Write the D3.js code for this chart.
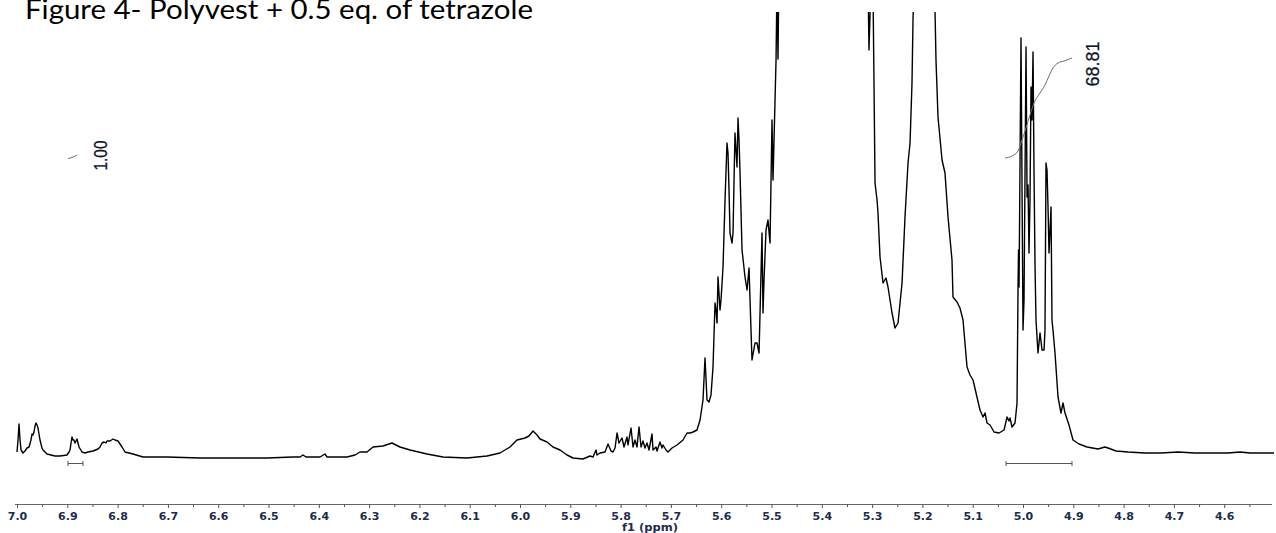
<!DOCTYPE html>
<html>
<head>
<meta charset="utf-8">
<script src="https://cdn.jsdelivr.net/npm/d3@7/dist/d3.min.js"></script>
<style>
  html, body { margin: 0; padding: 0; background: #ffffff; overflow: hidden; }
  svg { display: block; }
</style>
</head>
<body>
<svg id="chart" width="1276" height="533"></svg>
<script>
// 1H NMR spectrum, chemical shift (ppm) and intensity (arbitrary units)
const spectrumPpm = [
  7.0000, 6.9980, 6.9960, 6.9940, 6.9920, 6.9881, 6.9841, 6.9801, 6.9761, 6.9722,
  6.9702, 6.9682, 6.9662, 6.9642, 6.9622, 6.9602, 6.9583, 6.9543, 6.9503, 6.9483,
  6.9404, 6.9245, 6.9145, 6.9006, 6.8966, 6.8946, 6.8926, 6.8907, 6.8887, 6.8867,
  6.8847, 6.8827, 6.8807, 6.8787, 6.8767, 6.8708, 6.8648, 6.8588, 6.8489, 6.8390,
  6.8350, 6.8310, 6.8270, 6.8231, 6.8211, 6.8151, 6.8091, 6.8052, 6.7992, 6.7952,
  6.7912, 6.7853, 6.7694, 6.7495, 6.7018, 6.6362, 6.5706, 6.5030, 6.4513, 6.4374,
  6.4314, 6.4254, 6.3976, 6.3877, 6.3837, 6.3439, 6.3280, 6.3181, 6.3042, 6.2922,
  6.2724, 6.2545, 6.2386, 6.2187, 6.1849, 6.1531, 6.1054, 6.0656, 6.0398, 6.0199,
  6.0060, 5.9901, 5.9821, 5.9741, 5.9662, 5.9602, 5.9463, 5.9344, 5.9205, 5.9066,
  5.8946, 5.8748, 5.8608, 5.8549, 5.8489, 5.8469, 5.8409, 5.8310, 5.8250, 5.8191,
  5.8151, 5.8111, 5.8071, 5.8032, 5.7972, 5.7932, 5.7873, 5.7853, 5.7793, 5.7753,
  5.7714, 5.7674, 5.7634, 5.7594, 5.7555, 5.7515, 5.7475, 5.7435, 5.7376, 5.7356,
  5.7296, 5.7276, 5.7217, 5.7177, 5.7157, 5.7097, 5.7058, 5.6978, 5.6879, 5.6759,
  5.6680, 5.6620, 5.6561, 5.6481, 5.6421, 5.6362, 5.6322, 5.6282, 5.6243, 5.6203,
  5.6163, 5.6123, 5.6103, 5.6083, 5.6064, 5.6024, 5.6004, 5.5964, 5.5924, 5.5885,
  5.5865, 5.5845, 5.5825, 5.5785, 5.5765, 5.5745, 5.5726, 5.5706, 5.5686, 5.5666,
  5.5646, 5.5626, 5.5586, 5.5527, 5.5487, 5.5447, 5.5427, 5.5388, 5.5328, 5.5288,
  5.5248, 5.5189, 5.5169, 5.5149, 5.5109, 5.5070, 5.5030, 5.4990, 5.4970, 5.4930,
  5.4910, 5.4890, 5.4871, 5.4851, 5.4632, 5.4036, 5.3439, 5.3121, 5.3082, 5.3062,
  5.3022, 5.2982, 5.2942, 5.2902, 5.2883, 5.2843, 5.2783, 5.2724, 5.2684, 5.2604,
  5.2545, 5.2485, 5.2405, 5.2346, 5.2286, 5.2246, 5.2207, 5.2187, 5.2167, 5.2048,
  5.1889, 5.1769, 5.1749, 5.1730, 5.1690, 5.1610, 5.1551, 5.1491, 5.1412, 5.1392,
  5.1312, 5.1253, 5.1193, 5.1113, 5.1054, 5.0994, 5.0855, 5.0795, 5.0755, 5.0715,
  5.0656, 5.0576, 5.0477, 5.0377, 5.0318, 5.0278, 5.0258, 5.0218, 5.0159, 5.0119,
  5.0099, 5.0089, 5.0079, 5.0040, 5.0000, 4.9980, 4.9940, 4.9920, 4.9900, 4.9881,
  4.9861, 4.9841, 4.9821, 4.9801, 4.9781, 4.9761, 4.9742, 4.9702, 4.9662, 4.9622,
  4.9582, 4.9563, 4.9543, 4.9523, 4.9503, 4.9483, 4.9463, 4.9443, 4.9424, 4.9404,
  4.9364, 4.9304, 4.9245, 4.9205, 4.9165, 4.9086, 4.9006, 4.8887, 4.8728, 4.8510,
  4.8371, 4.8311, 4.8151, 4.7912, 4.7575, 4.7256, 4.6922, 4.6580, 4.6247, 4.5926,
  4.5685, 4.5487, 4.5247, 4.5010
];
const spectrumIntensity = [
  8, 20, 36, 20, 10, 7, 9, 12, 13, 20,
  26, 25, 28, 34, 37, 35, 32, 20, 12, 10,
  6, 4, 4, 5, 8, 10, 17, 23, 20, 20,
  17, 19, 21, 17, 13, 8, 7, 8, 9, 11,
  13, 17, 18, 17, 19, 19, 21, 20, 19, 16,
  13, 8, 6, 3, 3, 2, 2, 2, 3, 3,
  5, 3, 3, 6, 3, 3, 5, 8, 8, 13,
  14, 17, 13, 10, 6, 3, 2, 4, 7, 13,
  20, 22, 24, 29, 25, 21, 18, 13, 10, 5,
  2, 1, 4, 3, 10, 5, 7, 8, 16, 9,
  8, 12, 27, 17, 22, 13, 23, 15, 32, 13,
  20, 13, 33, 13, 19, 12, 17, 10, 26, 10,
  13, 9, 18, 12, 15, 10, 8, 12, 15, 20,
  27, 27, 28, 30, 40, 60, 102, 60, 58, 65,
  93, 157, 150, 137, 183, 150, 160, 193, 260, 317,
  307, 270, 227, 217, 227, 280, 327, 310, 293, 342,
  320, 287, 210, 183, 170, 192, 160, 100, 117, 117,
  107, 227, 147, 180, 230, 240, 217, 340, 280, 360,
  400, 480, 401, 500, 660, 760, 660, 500, 480, 410,
  480, 470, 277, 260, 247, 203, 177, 182, 173, 147,
  132, 137, 177, 243, 297, 317, 377, 440, 480, 610,
  610, 480, 448, 400, 343, 300, 287, 243, 200, 163,
  158, 152, 140, 93, 85, 80, 50, 43, 47, 37,
  35, 28, 27, 30, 43, 39, 42, 33, 37, 57,
  173, 210, 173, 422, 130, 160, 413, 263, 275, 207,
  260, 373, 340, 408, 287, 193, 140, 107, 127, 110,
  110, 130, 297, 290, 253, 207, 230, 253, 140, 130,
  107, 63, 47, 57, 47, 35, 20, 16, 13, 11,
  13, 12, 9, 8, 7, 7, 8, 7, 7, 7,
  8, 7, 7, 7
];

// Axis ticks
const majorTicks = [7.0, 6.9, 6.8, 6.7, 6.6, 6.5, 6.4, 6.3, 6.2, 6.1, 6.0, 5.9, 5.8,
                    5.7, 5.6, 5.5, 5.4, 5.3, 5.2, 5.1, 5.0, 4.9, 4.8, 4.7, 4.6];
const tickLabels = ["7.0", "6.9", "6.8", "6.7", "6.6", "6.5", "6.4", "6.3", "6.2", "6.1",
                    "6.0", "5.9", "5.8", "5.7", "5.6", "5.5", "5.4", "5.3", "5.2", "5.1",
                    "5.0", "4.9", "4.8", "4.7", "4.6"];
const minorTicks = [6.95, 6.85, 6.75, 6.65, 6.55, 6.45, 6.35, 6.25, 6.15, 6.05, 5.95,
                    5.85, 5.75, 5.65, 5.55, 5.45, 5.35, 5.25, 5.15, 5.05, 4.95, 4.85,
                    4.75, 4.65, 4.55];

// Integrals: region limits, running-integral trace and labels
const integralLabels = ["1.00", "68.81"];
const integralFrom = [6.8986, 5.0338];
const integralTo = [6.8688, 4.9026];
const integralTracePpm = [
  [6.8986, 6.8907, 6.8807],
  [5.0358, 5.0218, 5.0099, 5.0020, 4.9940, 4.9861, 4.9781, 4.9662, 4.9563, 4.9483,
   4.9404, 4.9304, 4.9185, 4.9026]
];
const integralTraceLevel = [
  [301.5, 302.5, 305],
  [302, 304, 309, 320, 332, 345, 357, 367, 375, 384, 392, 397, 399, 402]
];
const integralLabelPpm = [6.8350, 4.8628];
const integralLabelLevel = [304.5, 396];

const titleText = "Figure 4- Polyvest + 0.5 eq. of tetrazole";
const axisTitle = "f1 (ppm)";

// ---------- drawing ----------
const svg = d3.select("#chart");
const W = 1276, H = 533;

const x = d3.scaleLinear().domain([7.004, 4.505]).range([15, 1272]);
const y = d3.scaleLinear().domain([0, 448]).range([460, 12]);
const axisY = 504;

svg.append("rect").attr("width", W).attr("height", H).attr("fill", "#ffffff");

svg.append("defs").append("clipPath").attr("id", "plotClip")
  .append("rect").attr("x", 0).attr("y", 12).attr("width", W).attr("height", axisY - 12);

// Title (its top edge runs off the page)
svg.append("text")
  .attr("x", 25).attr("y", 18.5)
  .attr("font-family", "Lato, 'Open Sans', sans-serif")
  .attr("font-size", 26)
  .attr("fill", "#000")
  .attr("textLength", 508)
  .attr("lengthAdjust", "spacingAndGlyphs")
  .text(titleText);

// Spectrum trace
const spectrum = spectrumPpm.map((p, i) => [p, spectrumIntensity[i]]);
const line = d3.line().x(d => x(d[0])).y(d => y(d[1]));
svg.append("path")
  .datum(spectrum)
  .attr("clip-path", "url(#plotClip)")
  .attr("fill", "none")
  .attr("stroke", "#000")
  .attr("stroke-width", 1.4)
  .attr("stroke-linejoin", "round")
  .attr("d", line);

// Integral traces, brackets and labels
const bracketY = y(0) + 3.5;
integralLabels.forEach((lab, k) => {
  const trace = integralTracePpm[k].map((p, i) => [p, integralTraceLevel[k][i]]);
  svg.append("path")
    .datum(trace)
    .attr("fill", "none")
    .attr("stroke", "#6e6e6e")
    .attr("stroke-width", 1)
    .attr("d", d3.line().curve(d3.curveMonotoneX).x(d => x(d[0])).y(d => y(d[1])));

  const x0 = x(integralFrom[k]), x1 = x(integralTo[k]);
  const g = svg.append("g").attr("stroke", "#555").attr("stroke-width", 1);
  g.append("line").attr("x1", x0).attr("x2", x1).attr("y1", bracketY).attr("y2", bracketY);
  g.append("line").attr("x1", x0).attr("x2", x0).attr("y1", bracketY - 2.5).attr("y2", bracketY + 2.5);
  g.append("line").attr("x1", x1).attr("x2", x1).attr("y1", bracketY - 2.5).attr("y2", bracketY + 2.5);

  const lx = x(integralLabelPpm[k]), ly = y(integralLabelLevel[k]);
  svg.append("text")
    .attr("transform", `translate(${lx},${ly}) rotate(-90)`)
    .attr("text-anchor", "middle")
    .attr("dy", "0.36em")
    .attr("font-family", "'Liberation Sans Narrow', 'Liberation Sans', Arial, sans-serif")
    .attr("font-size", 19)
    .attr("fill", "#10142a")
    .attr("stroke", "#10142a")
    .attr("stroke-width", 0.3)
    .attr("textLength", k === 0 ? 30 : 45)
    .attr("lengthAdjust", "spacingAndGlyphs")
    .text(lab);
});

// Chemical shift axis
const axis = d3.axisBottom(x)
  .tickValues(majorTicks)
  .tickFormat((d, i) => tickLabels[i])
  .tickSizeInner(4)
  .tickSizeOuter(0)
  .tickPadding(4);

const gAxis = svg.append("g").attr("transform", `translate(0,${axisY})`).call(axis);
gAxis.select(".domain").attr("stroke", "#666").attr("stroke-width", 1)
  .attr("d", `M${x.range()[0]},0.5H${x.range()[1]}`);
gAxis.selectAll(".tick line").attr("stroke", "#555");
gAxis.selectAll(".tick text")
  .attr("font-family", "'DejaVu Sans', Verdana, sans-serif")
  .attr("font-size", 11)
  .attr("font-weight", "bold")
  .attr("fill", "#1d2b4f");

gAxis.selectAll(".minor")
  .data(minorTicks)
  .enter().append("line")
  .attr("class", "minor")
  .attr("x1", d => x(d) + 0.5).attr("x2", d => x(d) + 0.5)
  .attr("y1", 0).attr("y2", 3)
  .attr("stroke", "#555");

svg.append("text")
  .attr("x", 650).attr("y", 531)
  .attr("text-anchor", "middle")
  .attr("font-family", "'DejaVu Sans', Verdana, sans-serif")
  .attr("font-size", 11)
  .attr("font-weight", "bold")
  .attr("fill", "#1d2b4f")
  .attr("textLength", 56)
  .attr("lengthAdjust", "spacingAndGlyphs")
  .text(axisTitle);
</script>
</body>
</html>
